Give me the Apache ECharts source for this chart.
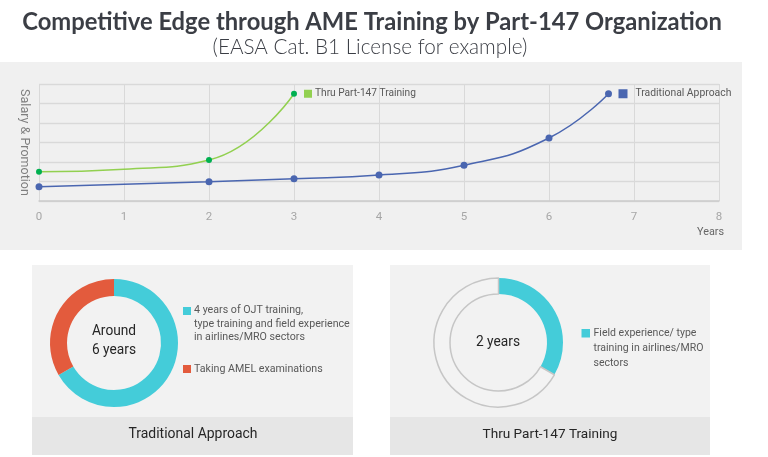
<!DOCTYPE html>
<html><head><meta charset="utf-8">
<script src="https://cdn.jsdelivr.net/npm/echarts@6/dist/echarts.min.js"></script>
<style>html,body{margin:0;padding:0;background:#fff}#c{width:768px;height:457px}</style>
</head><body><div id="c"></div><script>
// ---- data ----
const xTicks = [0, 1, 2, 3, 4, 5, 6, 7, 8];
const lineNames = ['Thru Part-147 Training', 'Traditional Approach'];
const part147X = [0, 1, 2, 3];
const part147Y = [1.5, 1.63, 2.1, 5.5];
const part147Marker = [true, false, true, true];
const tradX = [0, 2, 3, 4, 5, 6, 6.7];
const tradY = [0.73, 0.99, 1.14, 1.33, 1.83, 3.23, 5.5];
const tradPieNames = ['4 years of OJT training,\ntype training and field experience\nin airlines/MRO sectors', 'Taking AMEL examinations'];
const tradPieValues = [4, 2];
const p147PieNames = ['Field experience/ type\ntraining in airlines/MRO\nsectors', 'Remaining'];
const p147PieValues = [2, 4];
const titleText = 'Competitive Edge through AME Training by Part-147 Organization';
const subText = '(EASA Cat. B1 License for example)';
const yName = 'Salary & Promotion';
const xName = 'Years';
const tradCenter = 'Around\n6 years';
const p147Center = '2 years';
const tradCaption = 'Traditional Approach';
const p147Caption = 'Thru Part-147 Training';

// ---- helpers ----
const mctx = document.createElement('canvas').getContext('2d');
function fit(text, weight, family, target) {
  mctx.font = weight + ' 100px ' + family;
  const w = Math.max.apply(null, text.split('\n').map(t => mctx.measureText(t).width));
  return 100 * target / w;
}
const SANS = 'Roboto';
const TITLEF = 'Lato';

const cyan = '#44ccd9', red = '#e35b3d';
const green = '#92d050', greenDot = '#00b050', blue = '#4a66b0';

const chart = echarts.init(document.getElementById('c'));

const greenLblSize = fit(lineNames[0], 'normal', SANS, 101);
const blueLblSize = fit(lineNames[1], 'normal', SANS, 96);
const legTradSize = fit(tradPieNames[0], 'normal', SANS, 156);
const legP147Size = fit(p147PieNames[0], 'normal', SANS, 110);
const capSize1 = fit(tradCaption, 'normal', SANS, 129);
const capSize2 = fit(p147Caption, 'normal', SANS, 135);
const centerSize = fit('6 years', 'normal', SANS, 44);

function txt(x, y, text, size, opts) {
  opts = opts || {};
  return {
    type: 'text', x: x, y: y, z: 50,
    style: {
      text: text, fill: opts.fill || '#262626', fontSize: size,
      fontFamily: opts.family || SANS, fontWeight: opts.weight || 'normal',
      align: opts.align || 'center', verticalAlign: opts.va || 'middle',
      lineHeight: opts.lh
    }
  };
}
function rect(x, y, w, h, fill) {
  return { type: 'rect', z: -10, shape: { x: x, y: y, width: w, height: h }, style: { fill: fill } };
}

const graphics = [
  rect(0, 62, 742, 188, '#f0f0f0'),
  rect(32, 265, 321, 190, '#f2f2f2'),
  rect(32, 417, 321, 38, '#e6e6e6'),
  rect(390, 265, 320, 190, '#f2f2f2'),
  rect(390, 417, 320, 38, '#e6e6e6'),
  txt(372, 22, titleText, fit(titleText, 'bold', TITLEF, 700), { family: TITLEF, weight: 'bold', fill: '#3b3e45' }),
  txt(370, 47, subText, fit(subText, '300', TITLEF, 315), { family: TITLEF, weight: '300', fill: '#3b3e45' }),
  txt(114, 341, tradCenter, centerSize, { lh: 18.5 }),
  txt(498, 342.5, p147Center, centerSize),
  txt(193, 435, tradCaption, capSize1),
  txt(550, 435, p147Caption, capSize2),
  // legends
  { type: 'rect', z: 50, shape: { x: 183, y: 307, width: 8, height: 8 }, style: { fill: cyan } },
  txt(194, 304, tradPieNames[0], legTradSize, { align: 'left', va: 'top', lh: 13.3, fill: '#595959' }),
  { type: 'rect', z: 50, shape: { x: 183, y: 365, width: 8, height: 8 }, style: { fill: red } },
  txt(194, 369, tradPieNames[1], legTradSize, { align: 'left', fill: '#595959' }),
  { type: 'rect', z: 50, shape: { x: 581.5, y: 329, width: 8.5, height: 8.5 }, style: { fill: cyan } },
  txt(593.5, 325.8, p147PieNames[0], legP147Size, { align: 'left', va: 'top', lh: 15, fill: '#595959' })
];

const option = {
  animation: false,
  graphic: { elements: graphics },
  grid: { left: 39, top: 84, width: 680, height: 117 },
  xAxis: {
    type: 'value', min: 0, max: 8, interval: 1,
    axisLine: { show: true, lineStyle: { color: '#cccccc', width: 1.5 } },
    axisTick: { show: false },
    axisLabel: { color: '#a6a6a6', fontSize: 11.5, fontFamily: SANS, margin: 10,
      formatter: v => String(xTicks[Math.round(v)]) },
    splitLine: { show: true, lineStyle: { color: '#d9d9d9' } },
    name: xName, nameLocation: 'end', nameGap: 5,
    nameTextStyle: { color: '#666', fontFamily: SANS, fontSize: fit(xName, 'normal', SANS, 27),
      align: 'right', verticalAlign: 'top', padding: [26, 0, 0, 0] }
  },
  yAxis: {
    type: 'value', min: 0, max: 6, interval: 1,
    axisLine: { show: false }, axisTick: { show: false }, axisLabel: { show: false },
    splitLine: { show: true, lineStyle: { color: '#d9d9d9', width: 1.3 } },
    name: yName, nameLocation: 'middle', nameRotate: -90, nameGap: 8,
    nameTextStyle: { color: '#7f7f7f', fontFamily: SANS, fontSize: fit(yName, 'normal', SANS, 107) }
  },
  series: [
    {
      type: 'line', name: lineNames[0], smooth: true, z: 4,
      data: part147X.map((x, i) => ({ value: [x, part147Y[i]], symbol: part147Marker[i] ? 'circle' : 'none' })),
      symbolSize: 6, showSymbol: true,
      lineStyle: { color: green, width: 1.5 }, itemStyle: { color: greenDot },
      endLabel: {
        show: true, distance: 10,
        formatter: '{sq|}{t|' + lineNames[0] + '}',
        rich: {
          sq: { width: 8, height: 8, backgroundColor: green },
          t: { fontSize: greenLblSize, fontFamily: SANS, color: '#595959', padding: [0, 0, 0, 3] }
        }
      }
    },
    {
      type: 'line', name: lineNames[1], smooth: true, z: 3,
      data: tradX.map((x, i) => [x, tradY[i]]),
      symbol: 'circle', symbolSize: 7,
      lineStyle: { color: blue, width: 1.5 }, itemStyle: { color: blue },
      endLabel: {
        show: true, distance: 10,
        formatter: '{sq|}{t|' + lineNames[1] + '}',
        rich: {
          sq: { width: 9, height: 9, backgroundColor: blue },
          t: { fontSize: blueLblSize, fontFamily: SANS, color: '#595959', padding: [0, 0, 0, 8] }
        }
      }
    },
    {
      type: 'pie', center: [114, 343], radius: [47, 64], startAngle: 90, clockwise: true,
      label: { show: false }, labelLine: { show: false }, silent: true,
      emphasis: { disabled: true },
      data: tradPieNames.map((n, i) => ({ name: n, value: tradPieValues[i],
        itemStyle: { color: [cyan, red][i] } }))
    },
    {
      type: 'pie', center: [498.5, 342.5], radius: [48.5, 64.5], startAngle: 90, clockwise: true,
      label: { show: false }, labelLine: { show: false }, silent: true,
      emphasis: { disabled: true },
      data: p147PieNames.map((n, i) => ({ name: n, value: p147PieValues[i],
        itemStyle: i === 0 ? { color: cyan } : { color: '#f3f3f3', borderColor: '#c6c6c6', borderWidth: 1.5 } }))
    }
  ]
};
chart.setOption(option);
</script></body></html>
